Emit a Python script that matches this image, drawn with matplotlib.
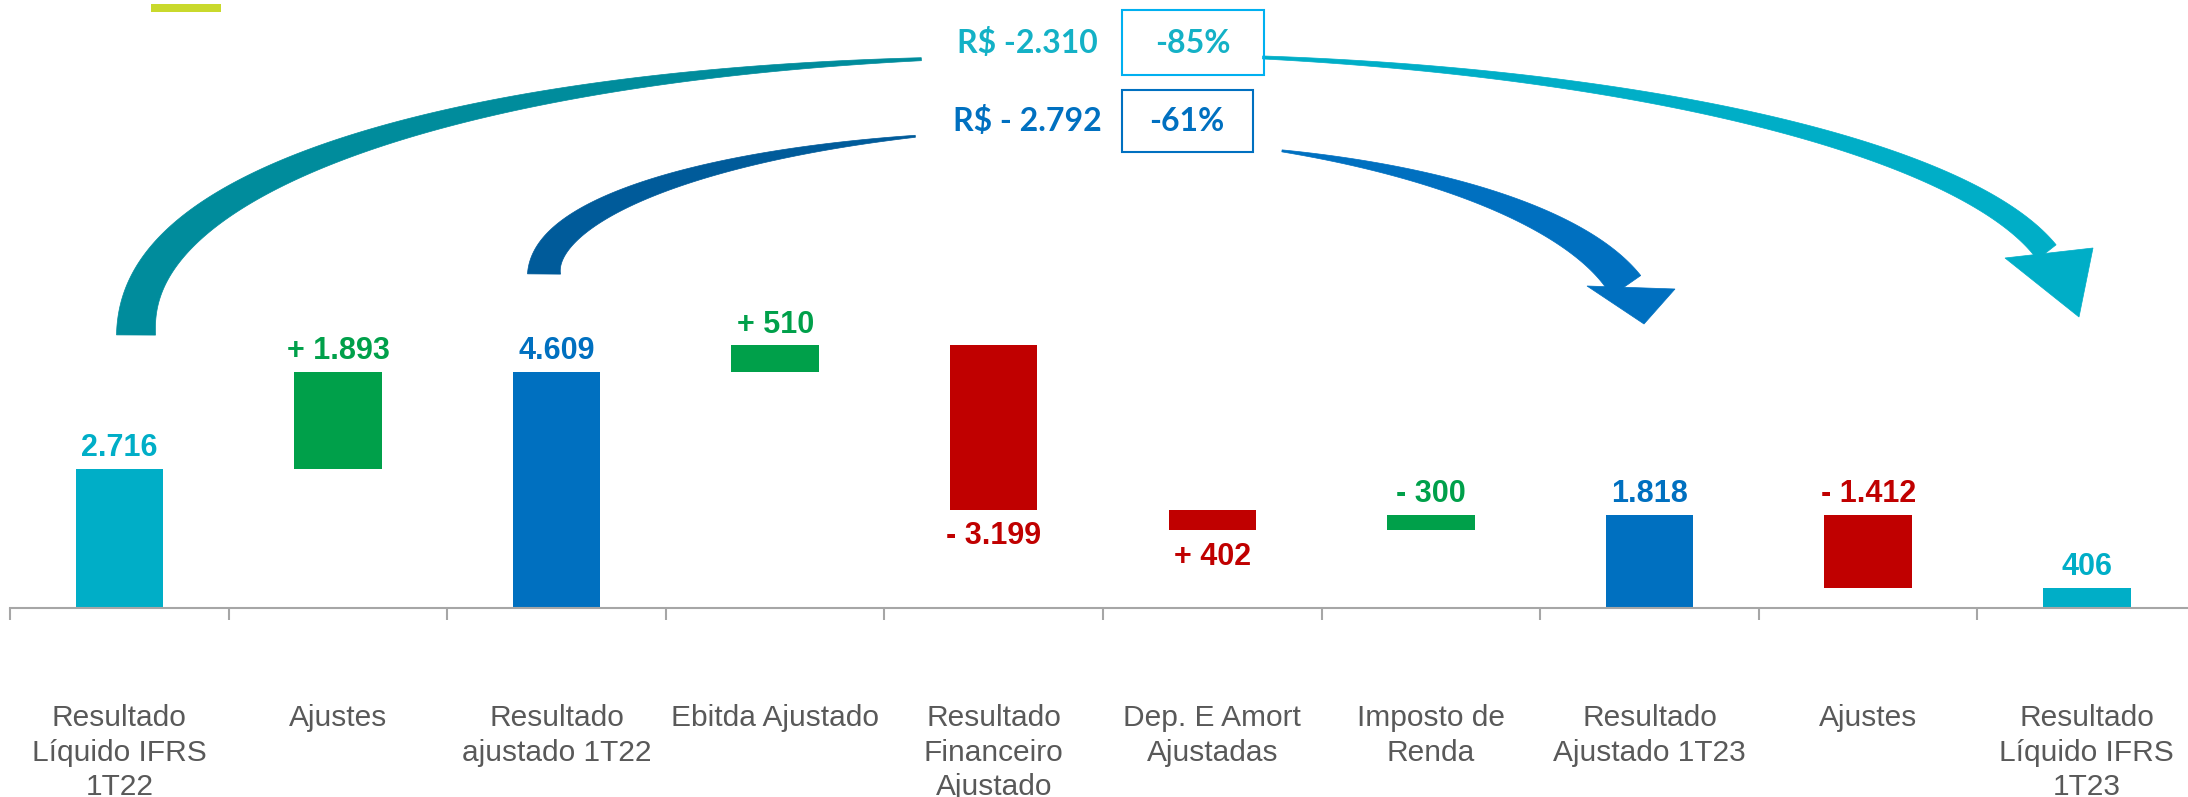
import numpy as np
import matplotlib.pyplot as plt
from matplotlib.patches import Polygon, Rectangle

# data ###########################################################
categories = ['Resultado\nLíquido IFRS\n1T22', 'Ajustes', 'Resultado\najustado 1T22',
              'Ebitda Ajustado', 'Resultado\nFinanceiro\nAjustado', 'Dep. E Amort\nAjustadas',
              'Imposto de\nRenda', 'Resultado\nAjustado 1T23', 'Ajustes',
              'Resultado\nLíquido IFRS\n1T23']
values = [2716, 1893, 4609, 510, -3199, -402, 300, 1818, -1412, 406]
is_total = [True, False, True, False, False, False, False, True, False, True]
value_labels = ['2.716', '+ 1.893', '4.609', '+ 510', '- 3.199', '+ 402', '- 300',
                '1.818', '- 1.412', '406']
label_below = [False, False, False, False, True, True, False, False, False, False]
bar_colors = ['#00AEC7', '#00A04A', '#0070C0', '#00A04A', '#C00000', '#C00000',
              '#00A04A', '#0070C0', '#C00000', '#00AEC7']
text_colors = bar_colors

var_total = 'R$ -2.310'
var_total_pct = '-85%'
var_adj = 'R$ - 2.792'
var_adj_pct = '-61%'

# waterfall bottoms
bottoms = []
running = 0
for v, tot in zip(values, is_total):
    if tot:
        bottoms.append(0)
        running = v
    else:
        bottoms.append(running)
        running += v

W, H = 2188, 797
fig = plt.figure(figsize=(W / 100, H / 100), dpi=100)
ax = fig.add_axes([0, 0, 1, 1])
x = np.arange(len(categories))
ax.bar(x, values, bottom=bottoms, width=0.40, color=bar_colors, zorder=2)

for i in range(len(values)):
    top = max(bottoms[i], bottoms[i] + values[i])
    low = min(bottoms[i], bottoms[i] + values[i])
    if label_below[i]:
        ax.annotate(value_labels[i], (x[i], low), xytext=(0, -8), textcoords='offset points',
                    ha='center', va='top', fontsize=22, fontweight='bold',
                    family='Liberation Sans', color=text_colors[i])
    else:
        ax.annotate(value_labels[i], (x[i], top), xytext=(0, 9), textcoords='offset points',
                    ha='center', va='baseline', fontsize=22, fontweight='bold',
                    family='Liberation Sans', color=text_colors[i])

ax.set_xlim(-0.546, 9.463)
ax.set_ylim(-3669, 11837)
for s in ['top', 'right', 'left']:
    ax.spines[s].set_visible(False)
ax.spines['bottom'].set_position(('data', 0))
ax.spines['bottom'].set_bounds(-0.5, 9.463)
ax.spines['bottom'].set_color('#A6A6A6')
ax.spines['bottom'].set_linewidth(1.5)
ax.set_yticks([])
ax.set_xticks(np.arange(-0.5, 9, 1))
ax.set_xticklabels([])
ax.tick_params(axis='x', which='major', direction='out', length=8.5, width=1.5, color='#A6A6A6')
ax.set_xticks(x, minor=True)
ax.set_xticklabels(categories, minor=True, fontsize=21.5, family='Liberation Sans',
                   color='#595959', va='top', linespacing=1.29)
ax.tick_params(axis='x', which='minor', length=0, pad=69)

# overlay in pixel coords for the arcs and boxes ####################
ov = fig.add_axes([0, 0, 1, 1])
ov.set_xlim(0, W)
ov.set_ylim(H, 0)
ov.axis('off')
ov.patch.set_alpha(0)


def arc(cx, cy, rx, ry, t0, t1, w0, w1, color, n_exp=2.0):
    # (super)elliptic band whose width goes from w0 to w1
    t = np.radians(np.linspace(t0, t1, 300))
    c, s = np.cos(t), np.sin(t)
    e = 2.0 / n_exp
    px = cx + rx * np.sign(c) * np.abs(c) ** e
    py = cy - ry * np.abs(s) ** e
    dx, dy = np.gradient(px), np.gradient(py)
    L = np.hypot(dx, dy)
    nx, ny = -dy / L, dx / L
    w = np.linspace(w0, w1, len(t)) / 2
    upper = np.column_stack([px + nx * w, py + ny * w])
    lower = np.column_stack([px - nx * w, py - ny * w])
    ov.add_patch(Polygon(np.vstack([upper, lower[::-1]]), closed=True, fc=color, ec=color,
                         lw=0.5))


# outer arc (IFRS)
arc(1102, 335, 966, 279, 180, 99.1, 39, 3, '#008C9C', n_exp=2.2)
arc(1102, 300, 963, 246, 80.4, 11.2, 3, 24, '#00AEC7')
ov.add_patch(Polygon([(2005, 258), (2093, 248), (2079, 317)], closed=True, fc='#00AEC7',
                     ec='#00AEC7', lw=0.5))

# inner arc (ajustado)
arc(1100, 274, 556, 146, 180, 109.4, 33, 2, '#005B9A')
arc(1080, 330, 561, 192, 68.9, 13.3, 2, 36, '#0070C0')
ov.add_patch(Polygon([(1587, 286), (1675, 289), (1644, 324)], closed=True, fc='#0070C0',
                     ec='#0070C0', lw=0.5))

# variation labels and boxes
ov.text(1027, 43, var_total, ha='center', va='center', fontsize=23, fontweight='bold',
        family='Lato', color='#14B1C6')
ov.add_patch(Rectangle((1122, 10), 142, 65, fill=False, ec='#00B0F0', lw=1.5))
ov.text(1193, 43, var_total_pct, ha='center', va='center', fontsize=23, fontweight='bold',
        family='Lato', color='#14B1C6')
ov.text(1027, 121, var_adj, ha='center', va='center', fontsize=23, fontweight='bold',
        family='Lato', color='#0070C0')
ov.add_patch(Rectangle((1122, 90), 131, 62, fill=False, ec='#0070C0', lw=1.5))
ov.text(1187, 121, var_adj_pct, ha='center', va='center', fontsize=23, fontweight='bold',
        family='Lato', color='#0070C0')

# small legend dash top-left
ov.add_patch(Rectangle((151, 4), 70, 8, fc='#C9D92C', ec='none'))

plt.savefig('out.png', dpi=100)
